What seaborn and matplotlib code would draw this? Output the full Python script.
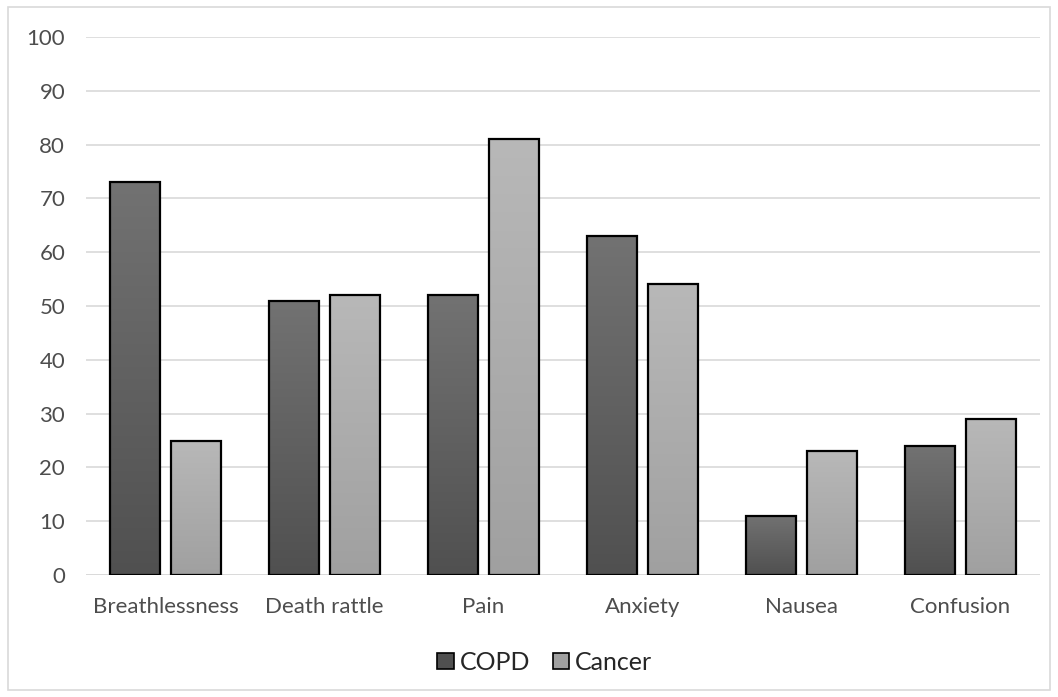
import matplotlib
matplotlib.use("Agg")
import matplotlib.pyplot as plt
import seaborn as sns
import pandas as pd
import numpy as np
from matplotlib.patches import Rectangle, Patch
from matplotlib.colors import LinearSegmentedColormap

categories = ["Breathlessness", "Death rattle", "Pain", "Anxiety", "Nausea", "Confusion"]
copd = [73, 51, 52, 63, 11, 24]
cancer = [25, 52, 81, 54, 23, 29]
series = ["COPD", "Cancer"]
yticks = [0, 10, 20, 30, 40, 50, 60, 70, 80, 90, 100]

df = pd.DataFrame({
    "Symptom": categories * 2,
    "Value": copd + cancer,
    "Group": [series[0]] * len(categories) + [series[1]] * len(categories),
})

sns.set_theme(style="white")
plt.rcParams["font.family"] = ["Lato", "DejaVu Sans"]

fig = plt.figure(figsize=(10.58, 6.97), dpi=100)
fig.patch.set_facecolor("white")
ax = fig.add_axes([0.0813, 0.175, 0.9017, 0.772])

colors = {"COPD": "#606060", "Cancer": "#ababab"}
sns.barplot(data=df, x="Symptom", y="Value", hue="Group", order=categories,
            hue_order=series, palette=colors, width=0.77, gap=0.18,
            edgecolor="black", linewidth=1.6, ax=ax, legend=False, zorder=3)

# gradient fills
grads = {"COPD": ("#727272", "#505050"), "Cancer": ("#b8b8b8", "#a0a0a0")}
for i, p in enumerate(ax.patches):
    grp = series[0] if i < len(categories) else series[1]
    top, bot = grads[grp]
    cmap = LinearSegmentedColormap.from_list(grp, [bot, top])
    x0, y0 = p.get_x(), p.get_y()
    w, h = p.get_width(), p.get_height()
    grad = np.linspace(0, 1, 256).reshape(-1, 1)
    im = ax.imshow(grad, cmap=cmap, extent=[x0, x0 + w, y0, y0 + h],
                   origin="lower", aspect="auto", zorder=3.5)
    im.set_clip_path(p)
    p.set_zorder(4)
    p.set_facecolor("none")

ax.set_xlim(-0.5, len(categories) - 0.5)
ax.set_ylim(0, 100)
ax.set_yticks(yticks)
ax.set_yticklabels([str(t) for t in yticks])
ax.grid(axis="y", color="#d9d9d9", linewidth=1.2, zorder=0)
ax.set_axisbelow(True)
for s in ax.spines.values():
    s.set_visible(False)
ax.axhline(0, color="#d9d9d9", linewidth=1.2, zorder=1)
ax.set_xlabel("")
ax.set_ylabel("")
ax.tick_params(axis="both", length=0, labelsize=16, labelcolor="#4d4d4d")
ax.tick_params(axis="y", pad=15)
ax.tick_params(axis="x", pad=16)

handles = [Patch(facecolor=grads[s][1], edgecolor="black", linewidth=1.2, label=s) for s in series]
fig.legend(handles=handles, loc="center", bbox_to_anchor=(0.515, 0.05), ncol=2,
           frameon=False, fontsize=18, handlelength=0.65, handleheight=0.65,
           handletextpad=0.25, columnspacing=0.9, labelcolor="#262626")

border = Rectangle((8 / 1058, 7 / 697), 1042 / 1058, 683 / 697, transform=fig.transFigure,
                   fill=False, edgecolor="#d9d9d9", linewidth=1.2)
fig.patches.append(border)

fig.savefig("out.png", dpi=100, facecolor="white")
